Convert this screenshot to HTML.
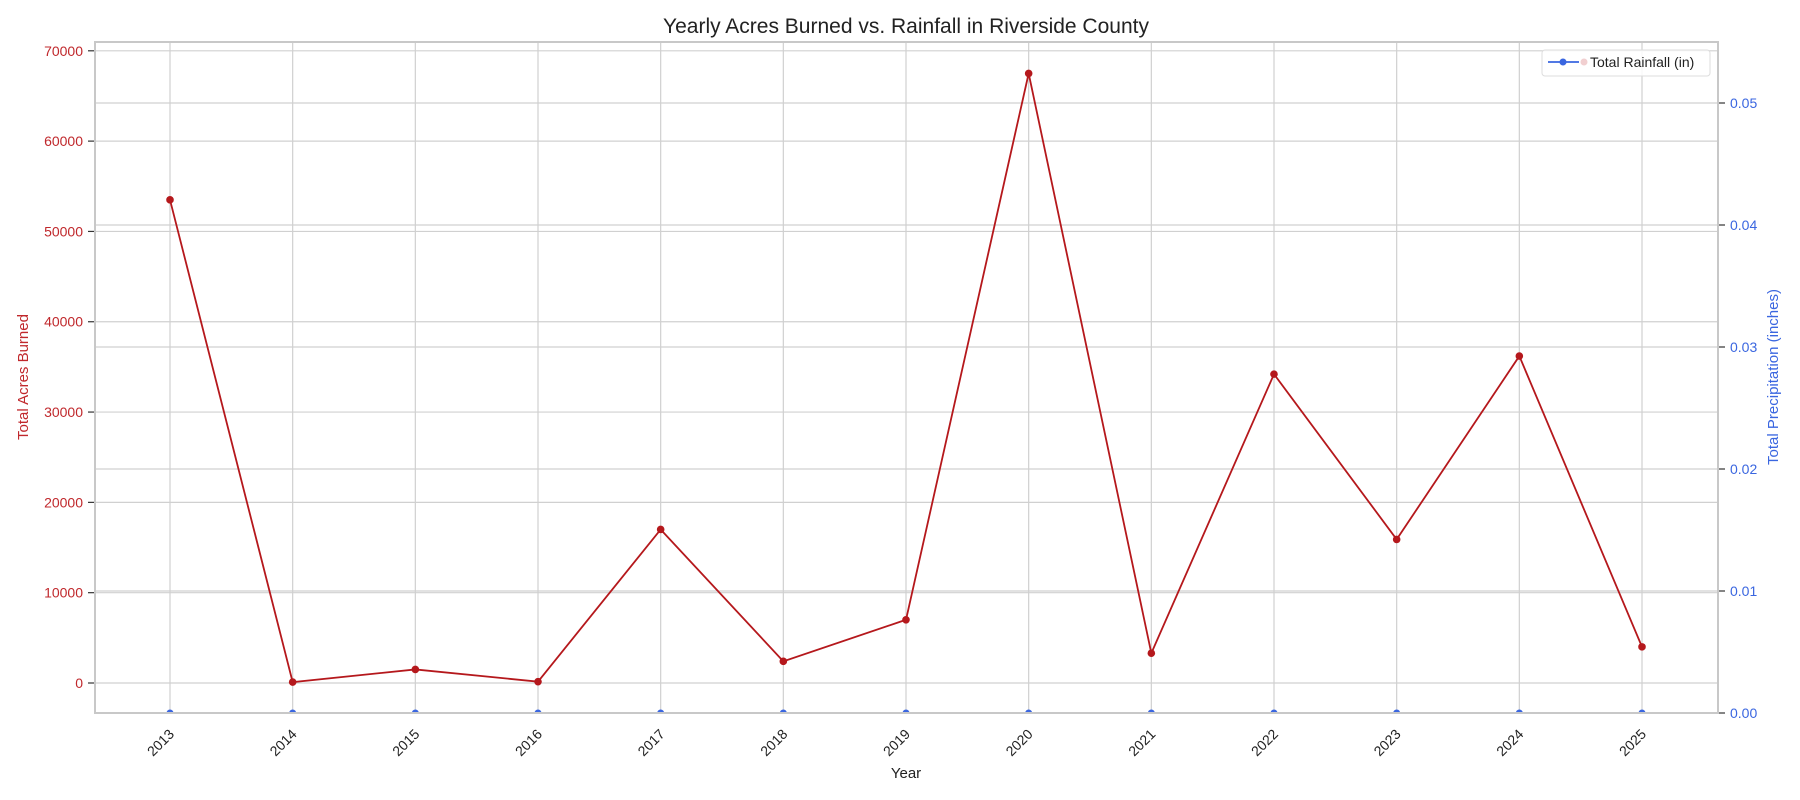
<!DOCTYPE html>
<html><head><meta charset="utf-8"><style>
body{margin:0;background:#fff;}
svg{display:block;font-family:"Liberation Sans",Arial,sans-serif;}
</style></head><body>
<svg id="chart" width="1800" height="800" xmlns="http://www.w3.org/2000/svg">
<defs><clipPath id="plotclip"><rect x="95" y="42" width="1623" height="671"/></clipPath></defs>
<text x="906" y="33" text-anchor="middle" font-size="21" fill="#222">Yearly Acres Burned vs. Rainfall in Riverside County</text>
<g id="grid"></g>
<g id="rainseries" clip-path="url(#plotclip)"></g>
<g id="axes"></g>
<g id="series"></g>
<text x="906" y="778" text-anchor="middle" font-size="15" fill="#222">Year</text>
<text transform="translate(28,377) rotate(-90)" text-anchor="middle" font-size="15" fill="#c0282c">Total Acres Burned</text>
<text transform="translate(1778,377) rotate(-90)" text-anchor="middle" font-size="15" fill="#3a66e0">Total Precipitation (inches)</text>
<g>
<rect x="1542" y="50" width="168" height="26" rx="3" fill="#fff" fill-opacity="0.85" stroke="#ddd"/>
<line x1="1548" y1="62" x2="1579" y2="62" stroke="#3a66e0" stroke-width="1.8"/>
<circle cx="1563" cy="62" r="3.5" fill="#3a66e0"/>
<circle cx="1584" cy="62" r="3.5" fill="#f1cfd0"/>
<text x="1590" y="67" font-size="14" fill="#222">Total Rainfall (in)</text>
</g>
</svg>
<script>
const years=[2013,2014,2015,2016,2017,2018,2019,2020,2021,2022,2023,2024,2025];
const acres=[53500,100,1500,150,17000,2400,7000,67500,3300,34200,15900,36200,4000];
const rain=[0,0,0,0,0,0,0,0,0,0,0,0,0];
const leftTicks=[0,10000,20000,30000,40000,50000,60000,70000];
const rightTicks=[0,0.01,0.02,0.03,0.04,0.05];
const rightTickLabels=["0.00","0.01","0.02","0.03","0.04","0.05"];

const NS="http://www.w3.org/2000/svg";
const L=95,R=1718,T=42,B=713;
function x(i){return 170+i*(1642-170)/(years.length-1);}
function yL(v){return 683-v*(683-50.8)/70000;}
function yR(v){return 713-v*(713-103)/0.05;}
function mk(tag,attrs,parent){const e=document.createElementNS(NS,tag);for(const k in attrs)e.setAttribute(k,attrs[k]);parent.appendChild(e);return e;}
const grid=document.getElementById('grid'),axes=document.getElementById('axes'),series=document.getElementById('series'),rs=document.getElementById('rainseries');
years.forEach((yr,i)=>{
 const g=mk('line',{x1:x(i),x2:x(i),y1:T,y2:B,stroke:'#d0d0d0','stroke-width':1.2},grid);
 
 
 const t=mk('text',{transform:`translate(${x(i)+5},${B+22}) rotate(-45)`,'text-anchor':'end','font-size':14,fill:'#222'},axes);
 t.textContent=yr;
 
 
});
leftTicks.forEach(v=>{
 const g=mk('line',{x1:L,x2:R,y1:yL(v),y2:yL(v),stroke:'#d0d0d0','stroke-width':1.2},grid);
 
 
 mk('line',{x1:L-7,x2:L,y1:yL(v),y2:yL(v),stroke:'#333','stroke-width':1.2},axes);
 const t=mk('text',{x:L-12,y:yL(v)+5,'text-anchor':'end','font-size':14,fill:'#c0282c'},axes);
 t.textContent=v;
 
 
});
rightTicks.forEach((v,i)=>{
 const g=mk('line',{x1:L,x2:R,y1:yR(v),y2:yR(v),stroke:'#d0d0d0','stroke-width':1.2},grid);
 
 
 mk('line',{x1:R,x2:R+7,y1:yR(v),y2:yR(v),stroke:'#333','stroke-width':1.2},axes);
 const t=mk('text',{x:R+12,y:yR(v)+5,'font-size':14,fill:'#3a66e0'},axes);
 t.textContent=rightTickLabels[i];
 
 
});
const rp=mk('polyline',{points:rain.map((v,i)=>x(i)+','+yR(v)).join(' '),fill:'none',stroke:'#3a66e0','stroke-width':1.8,'stroke-opacity':0.5},rs);


rain.forEach((v,i)=>{const c=mk('circle',{cx:x(i),cy:yR(v),r:3.5,fill:'#3a66e0'},rs);
 
 });
const frame=mk('rect',{x:L,y:T,width:R-L,height:B-T,fill:'none',stroke:'#c8c8c8','stroke-width':2},axes);


const ap=mk('polyline',{points:acres.map((v,i)=>x(i)+','+yL(v)).join(' '),fill:'none',stroke:'#b5181c','stroke-width':1.8},series);


acres.forEach((v,i)=>{const c=mk('circle',{cx:x(i),cy:yL(v),r:3.8,fill:'#b5181c'},series);
 
 });
</script>
</body></html>
